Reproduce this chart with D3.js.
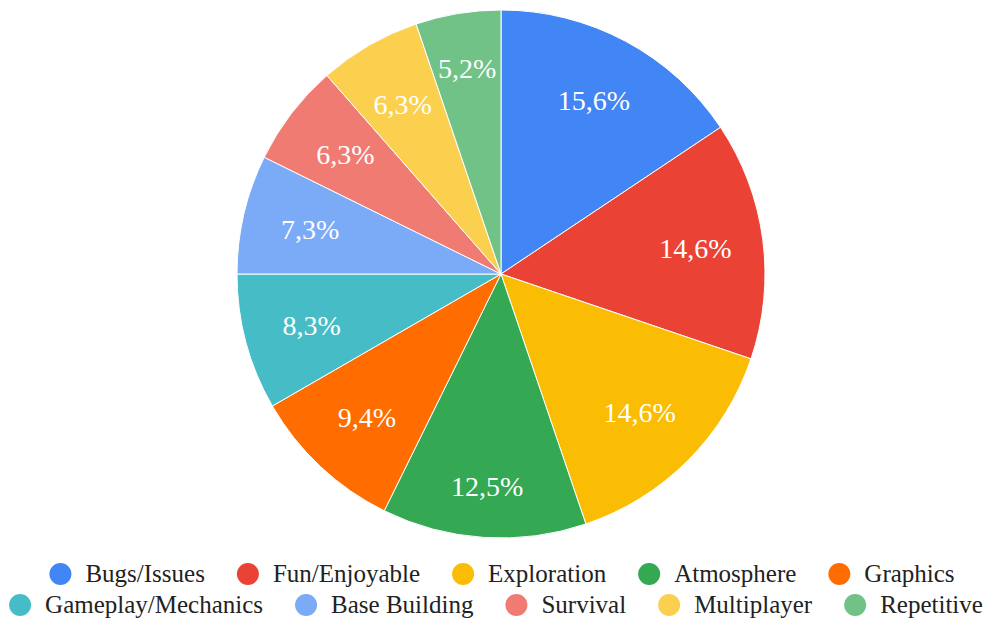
<!DOCTYPE html>
<html><head><meta charset="utf-8">
<script src="https://cdn.jsdelivr.net/npm/d3@7"></script>
<style>html,body{margin:0;padding:0;background:#fff;}svg{display:block;}</style>
</head><body><svg id="c" width="1000" height="624"></svg>
<script>
const categories = ["Bugs/Issues","Fun/Enjoyable","Exploration","Atmosphere","Graphics","Gameplay/Mechanics","Base Building","Survival","Multiplayer","Repetitive"];
const counts = [15,14,14,12,9,8,7,6,6,5];
const colors = ["#4285F4","#EA4335","#FBBC04","#34A853","#FF6D01","#46BDC6","#7BAAF7","#F07B72","#FCD04F","#71C287"];
const legendRows = [[0,1,2,3,4],[5,6,7,8,9]];

const svg = d3.select("#c");
const cx = 501, cy = 274, R = 264;
const font = "'Liberation Serif','Times New Roman',Times,serif";
const total = d3.sum(counts);
const pie = d3.pie().sort(null).value(d => d)(counts);
const arc = d3.arc().innerRadius(0).outerRadius(R);
const g = svg.append("g").attr("transform", `translate(${cx},${cy})`);
g.selectAll("path").data(pie).join("path")
  .attr("d", arc).attr("fill", (d,i) => colors[i])
  .attr("stroke", "#fff").attr("stroke-width", 1);
const fmt = v => (Math.round(v*1000)/10).toFixed(1).replace(".", ",") + "%";
function labelPos(d) {
  const a = (d.startAngle + d.endAngle) / 2;
  const r = 196 + 17 * Math.pow(Math.abs(Math.cos(a)), 24);
  return [r * Math.sin(a), -r * Math.cos(a)];
}
g.selectAll("text").data(pie).join("text")
  .attr("transform", d => `translate(${labelPos(d)})`)
  .attr("text-anchor", "middle").attr("dy", "0.35em")
  .attr("fill", "#fff").style("font-family", font).style("font-size", "28px")
  .text(d => fmt(d.value / total));

const rowY = [574, 605];
legendRows.forEach((row, ri) => {
  const lg = svg.append("g");
  let x = 0;
  row.forEach((i, k) => {
    const it = lg.append("g").attr("transform", `translate(${x},0)`);
    it.append("circle").attr("cx", 11).attr("cy", 0).attr("r", 11).attr("fill", colors[i]);
    const t = it.append("text").attr("x", 36).attr("dy", "0.33em")
      .style("font-family", font).style("font-size", "25px").attr("fill", "#222")
      .text(categories[i]);
    x += 36 + t.node().getComputedTextLength() + 32;
  });
  const w = x - 32;
  lg.attr("transform", `translate(${(ri === 0 ? 502 : 496) - w/2},${rowY[ri]})`);
});
</script></body></html>
